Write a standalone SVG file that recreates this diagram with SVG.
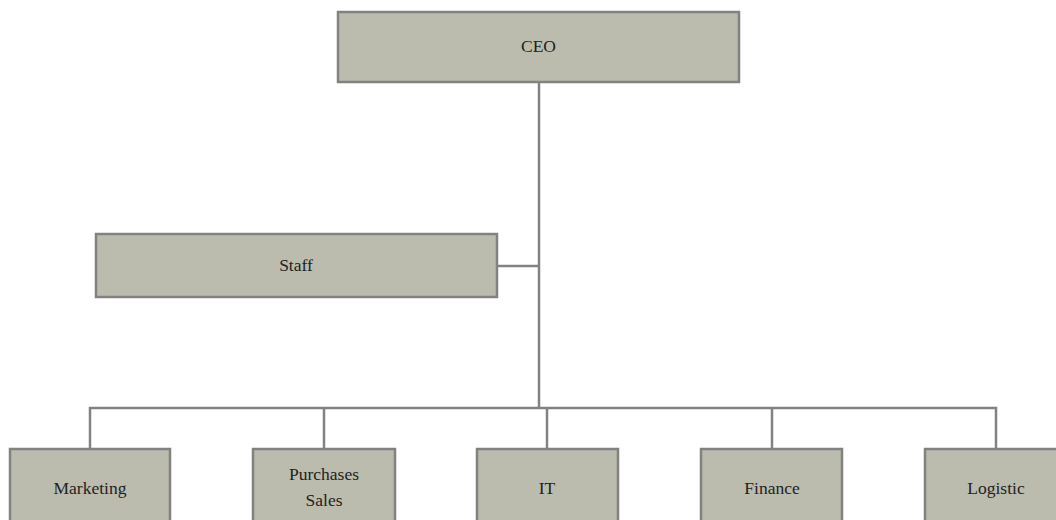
<svg xmlns="http://www.w3.org/2000/svg" width="1056" height="520" viewBox="0 0 1056 520">
<style>
.box{fill:#bbbcae;stroke:#828282;stroke-width:2.5}
.lbl{font-family:"Liberation Serif",serif;font-size:17.5px;fill:#222;text-anchor:middle;dominant-baseline:central}
.con{fill:none;stroke:#828282;stroke-width:2.5}
</style>
<rect width="1056" height="520" fill="#fff"/>
<g id="connectors">
<path class="con" d="M539,82 V408"/>
<path class="con" d="M497,266 H539"/>
<path class="con" d="M90,449 V408 H996 V449"/>
<path class="con" d="M324,408 V449"/>
<path class="con" d="M547,408 V449"/>
<path class="con" d="M772,408 V449"/>
</g>
<g id="ceo"><rect class="box" x="338" y="12" width="401" height="70"/><text class="lbl" x="538.5" y="46">CEO</text></g>
<g id="staff"><rect class="box" x="96" y="234" width="401" height="63"/><text class="lbl" x="296" y="265">Staff</text></g>
<g id="marketing"><rect class="box" x="10" y="449" width="160" height="82"/><text class="lbl" x="90" y="488">Marketing</text></g>
<g id="purchases"><rect class="box" x="253" y="449" width="142" height="82"/><text class="lbl" x="324" y="474">Purchases</text><text class="lbl" x="324" y="500">Sales</text></g>
<g id="it"><rect class="box" x="477" y="449" width="141" height="82"/><text class="lbl" x="547" y="488">IT</text></g>
<g id="finance"><rect class="box" x="701" y="449" width="141" height="82"/><text class="lbl" x="772" y="488">Finance</text></g>
<g id="logistic"><rect class="box" x="925" y="449" width="141" height="82"/><text class="lbl" x="996" y="488">Logistic</text></g>
</svg>
